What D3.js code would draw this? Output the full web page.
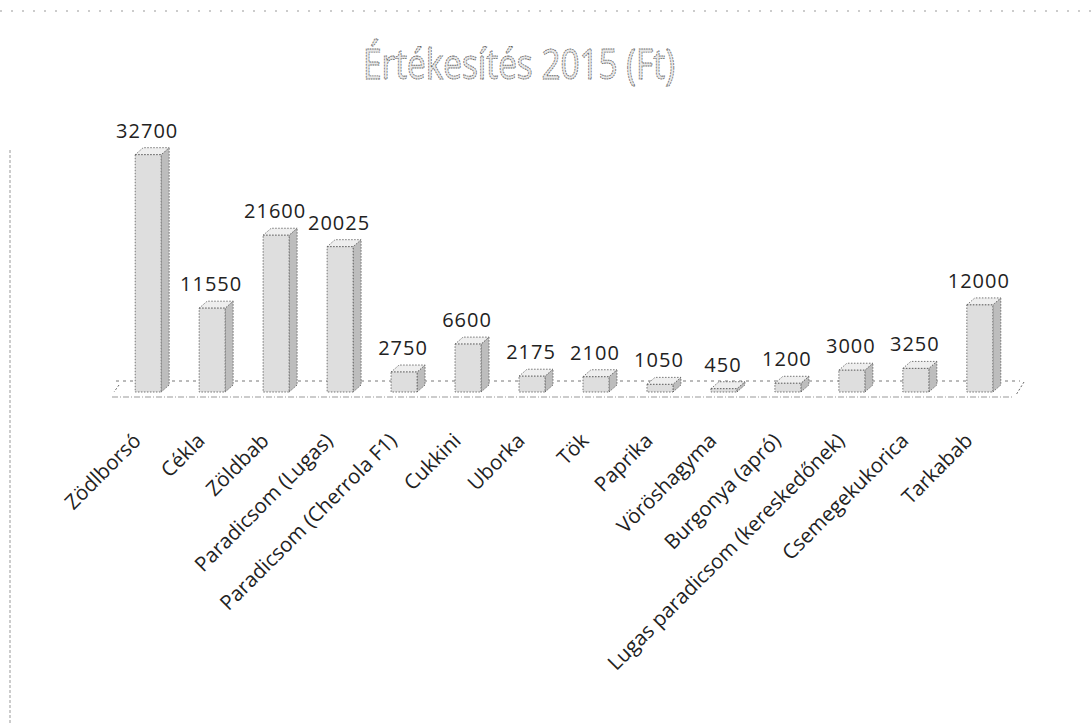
<!DOCTYPE html>
<html><head><meta charset="utf-8">
<script src="https://cdn.jsdelivr.net/npm/d3@7/dist/d3.min.js"></script>
<style>
html,body{margin:0;padding:0;background:#fff;}
svg{display:block;}
</style></head>
<body>
<svg id="chart" width="1092" height="723"></svg>
<script>
const title = "Értékesítés 2015 (Ft)";
const categories = ["Zödlborsó","Cékla","Zöldbab","Paradicsom (Lugas)","Paradicsom (Cherrola F1)","Cukkini","Uborka","Tök","Paprika","Vöröshagyma","Burgonya (apró)","Lugas paradicsom (kereskedőnek)","Csemegekukorica","Tarkabab"];
const values = [32700,11550,21600,20025,2750,6600,2175,2100,1050,450,1200,3000,3250,12000];

const svg = d3.select("#chart");
const W = 1092, H = 723;

// frame of the scanned page
svg.append("line").attr("x1",0).attr("x2",W).attr("y1",11).attr("y2",11)
  .attr("stroke","#999").attr("stroke-width",1).attr("stroke-dasharray","2,9");
svg.append("line").attr("x1",10).attr("x2",10).attr("y1",150).attr("y2",H)
  .attr("stroke","#999").attr("stroke-width",1).attr("stroke-dasharray","3,2");

// title
svg.append("text").attr("x",519).attr("y",79).attr("text-anchor","middle")
  .attr("font-family","Open Sans").attr("font-size",42)
  .attr("textLength",312).attr("lengthAdjust","spacingAndGlyphs")
  .attr("fill","#e8e8e8").attr("stroke","#666").attr("stroke-width",0.9)
  .attr("stroke-dasharray","2,1")
  .text(title);

const x = d3.scaleBand().domain(categories).range([116, 1012]).paddingInner(0.594).paddingOuter(0.3);
const y = d3.scaleLinear().domain([0,35000]).range([392, 138]);

const depthX = 8, depthY = -7;
const floorFront = 397, floorBack = 381;

// floor
const [fx0, fx1] = x.range();
svg.append("line").attr("x1",fx0).attr("x2",fx1+8).attr("y1",floorBack).attr("y2",floorBack)
  .attr("stroke","#777").attr("stroke-width",1).attr("stroke-dasharray","3,4");
svg.append("line").attr("x1",fx0-4).attr("x2",fx1).attr("y1",floorFront).attr("y2",floorFront)
  .attr("stroke","#999").attr("stroke-width",1.2).attr("stroke-dasharray","6,2,1,2");
svg.append("line").attr("x1",fx1+12).attr("x2",fx1+4).attr("y1",floorBack+1).attr("y2",floorFront-2)
  .attr("stroke","#666").attr("stroke-width",1).attr("stroke-dasharray","2,2");
svg.append("line").attr("x1",fx0+3).attr("x2",fx0-2).attr("y1",floorBack+4).attr("y2",floorFront-5)
  .attr("stroke","#666").attr("stroke-width",1).attr("stroke-dasharray","2,2");

const bars = svg.append("g").selectAll("g").data(categories).join("g");
const bw = x.bandwidth();
bars.each(function(c,i){
  const g = d3.select(this);
  const x0 = x(c), x1 = x0 + bw, yt = y(values[i]), yb = y(0);
  g.append("path").attr("d",`M${x1},${yb}L${x1+depthX},${yb+depthY}L${x1+depthX},${yt+depthY}L${x1},${yt}Z`)
    .attr("fill","#bdbdbd").attr("stroke","#555").attr("stroke-width",0.8).attr("stroke-dasharray","1.5,1.5");
  g.append("path").attr("d",`M${x0},${yt}L${x1},${yt}L${x1+depthX},${yt+depthY}L${x0+depthX},${yt+depthY}Z`)
    .attr("fill","#eeeeee").attr("stroke","#555").attr("stroke-width",0.8).attr("stroke-dasharray","1.5,1.5");
  g.append("rect").attr("x",x0).attr("y",yt).attr("width",bw).attr("height",yb-yt)
    .attr("fill","#dedede").attr("stroke","#555").attr("stroke-width",0.8).attr("stroke-dasharray","1.5,1.5");
});

// value labels
svg.append("g").selectAll("text").data(categories).join("text")
  .attr("x",d=>x(d)+bw/2 - 1).attr("y",(d,i)=>y(values[i])-17)
  .attr("text-anchor","middle").attr("font-family","Open Sans").attr("font-size",20)
  .attr("letter-spacing",1).attr("fill","#222")
  .text((d,i)=>values[i]);

// category labels
svg.append("g").selectAll("text").data(categories).join("text")
  .attr("transform",d=>`translate(${x(d)+bw/2 - 6},${442}) rotate(-45)`)
  .attr("text-anchor","end").attr("font-family","Open Sans").attr("font-size",20.5)
  .attr("fill","#222")
  .text(d=>d);
</script>
</body></html>
